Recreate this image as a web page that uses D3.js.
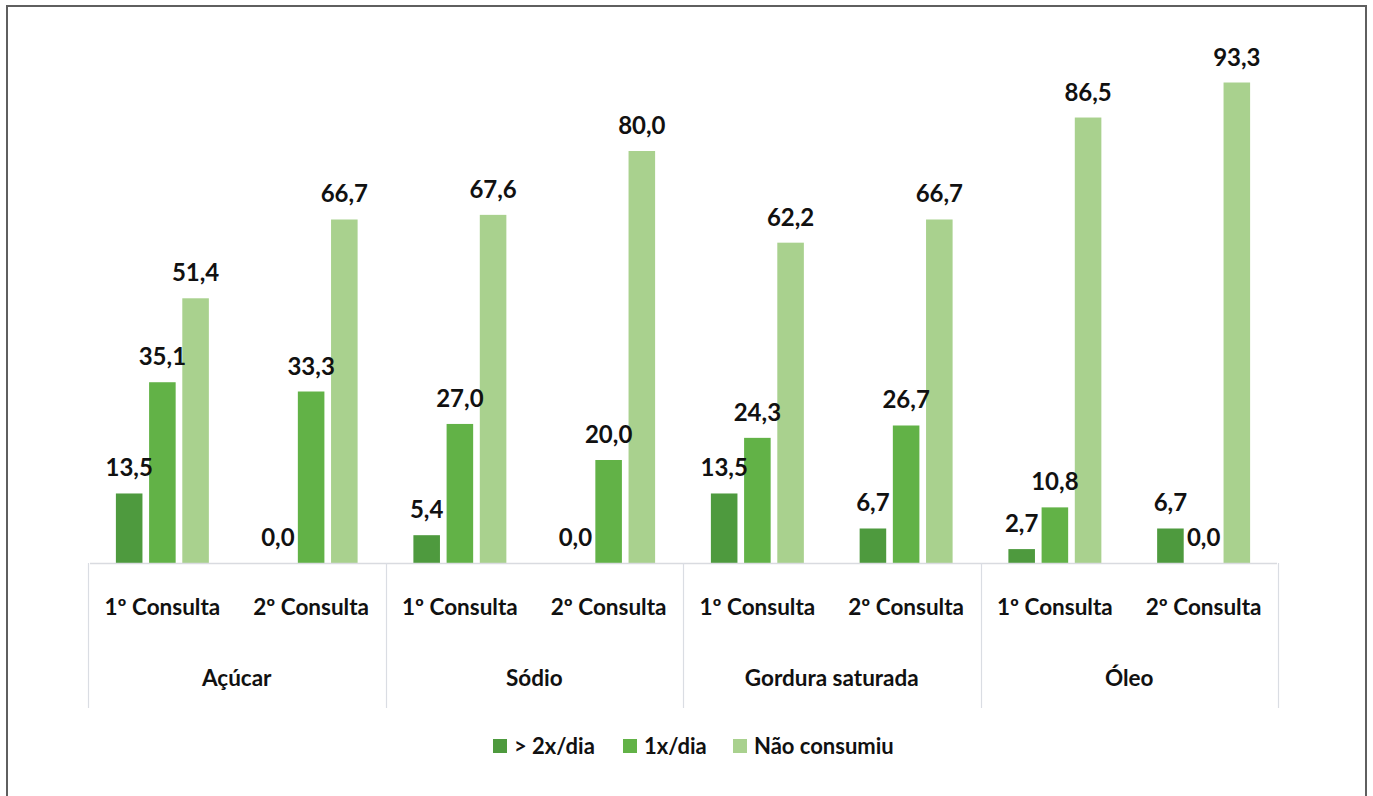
<!DOCTYPE html>
<html>
<head>
<meta charset="utf-8">
<script src="https://cdn.jsdelivr.net/npm/d3@7"></script>
<style>
  html, body { margin: 0; padding: 0; background: #ffffff; }
  svg { display: block; }
  text { font-family: Lato, "Open Sans", sans-serif; font-weight: 700; fill: #111; }
</style>
</head>
<body>
<svg id="chart" width="1373" height="796"></svg>
<script>
// Food groups and consultation visits
const categories = ["Açúcar", "Sódio", "Gordura saturada", "Óleo"];
const visits = ["1º Consulta", "2º Consulta"];
const seriesNames = ["> 2x/dia", "1x/dia", "Não consumiu"];
const seriesColors = ["#4e9a3e", "#62b247", "#a9d18e"];

// Percentages per series, ordered category × visit
const moreThanTwice = [13.5, 0.0, 5.4, 0.0, 13.5, 6.7, 2.7, 6.7];
const oncePerDay    = [35.1, 33.3, 27.0, 20.0, 24.3, 26.7, 10.8, 0.0];
const notConsumed   = [51.4, 66.7, 67.6, 80.0, 62.2, 66.7, 86.5, 93.3];
const seriesValues = [moreThanTwice, oncePerDay, notConsumed];

const svg = d3.select("#chart");
const baseY = 563;

const x0 = d3.scaleBand().domain(categories).range([88, 1278]).padding(0);
const x1 = d3.scaleBand().domain(visits).range([0, x0.bandwidth()]).padding(0);
const x2 = d3.scaleBand().domain(seriesNames).range([0, x1.bandwidth()])
  .paddingInner(0.2).paddingOuter(0.84);
const y = d3.scaleLinear().domain([0, 100]).range([baseY, 48]);

// outer frame
svg.append("path")
  .attr("d", "M7,796 L7,6 L1366,6 L1366,796")
  .attr("fill", "none").attr("stroke", "#5f5f5f").attr("stroke-width", 2);

// rows of bars
const rows = [];
categories.forEach((c, ci) => visits.forEach((v, vi) => {
  seriesNames.forEach((s, si) => {
    rows.push({ cat: c, visit: v, series: s, si, value: seriesValues[si][ci * 2 + vi] });
  });
}));

const gBars = svg.append("g");
gBars.selectAll("rect").data(rows).join("rect")
  .attr("x", d => x0(d.cat) + x1(d.visit) + x2(d.series))
  .attr("width", x2.bandwidth())
  .attr("y", d => y(d.value))
  .attr("height", d => baseY - y(d.value))
  .attr("fill", d => seriesColors[d.si]);

const fmt = v => v.toFixed(1).replace(".", ",");
gBars.selectAll("text").data(rows).join("text")
  .attr("x", d => x0(d.cat) + x1(d.visit) + x2(d.series) + x2.bandwidth() / 2)
  .attr("y", d => y(d.value) - 17)
  .attr("text-anchor", "middle")
  .attr("font-size", 24)
  .text(d => fmt(d.value));

// category axis with group separators
const axis = svg.append("g");
axis.append("line")
  .attr("x1", 90).attr("x2", 1277).attr("y1", baseY + 0.5).attr("y2", baseY + 0.5)
  .attr("stroke", "#d9dbe0").attr("stroke-width", 1.5);
const seps = categories.map(c => x0(c)).concat([x0.range()[1]]);
axis.selectAll("line.sep").data(seps).join("line")
  .attr("class", "sep")
  .attr("x1", d => Math.round(d) + 0.5).attr("x2", d => Math.round(d) + 0.5)
  .attr("y1", baseY).attr("y2", 708)
  .attr("stroke", "#dadde3").attr("stroke-width", 1.2);

const visitLabels = [];
categories.forEach(c => visits.forEach(v => visitLabels.push({ c, v })));
axis.selectAll("text.visit").data(visitLabels).join("text")
  .attr("class", "visit")
  .attr("x", d => x0(d.c) + x1(d.v) + x1.bandwidth() / 2)
  .attr("y", 615)
  .attr("text-anchor", "middle")
  .attr("font-size", 22.5)
  .text(d => d.v);

axis.selectAll("text.cat").data(categories).join("text")
  .attr("class", "cat")
  .attr("x", d => x0(d) + x0.bandwidth() / 2)
  .attr("y", 686)
  .attr("text-anchor", "middle")
  .attr("font-size", 22.5)
  .text(d => d);

// legend
const legendX = [493, 623, 733];
const legend = svg.append("g");
const li = legend.selectAll("g").data(seriesNames).join("g")
  .attr("transform", (d, i) => `translate(${legendX[i]},739)`);
li.append("rect").attr("width", 14).attr("height", 14)
  .attr("fill", (d, i) => seriesColors[i]);
li.append("text").attr("x", 21).attr("y", 15)
  .attr("font-size", 22)
  .text(d => d);
</script>
</body>
</html>
